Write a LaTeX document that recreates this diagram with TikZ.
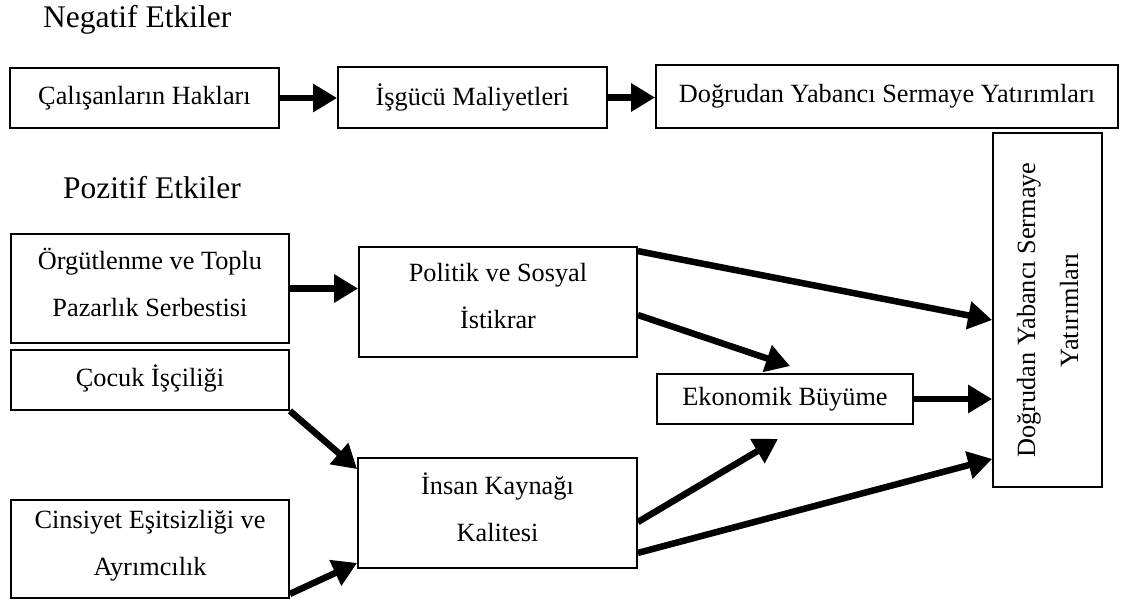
\documentclass[tikz,border=0pt]{standalone}
\usepackage{fontspec}
\setmainfont{Liberation Serif}
\usetikzlibrary{arrows.meta}

\begin{document}
\begin{tikzpicture}[x=1pt,y=-1pt,
    kutu/.style={draw, line width=1.8pt, inner sep=0pt, align=center,
        font=\fontsize{26.3}{47}\selectfont},
    ikisatir/.style={kutu, text depth=12pt},
    baslik/.style={anchor=base west, inner sep=0pt, font=\fontsize{31.5}{38}\selectfont},
    ok/.style={line width=6.5pt, -{Triangle[length=24pt,width=27pt]}}]
\useasboundingbox (0,0) rectangle (1123,606);

% Negatif etkiler
\node[baslik] (negbaslik) at (43,27) {Negatif Etkiler};
\node[kutu, minimum width=269, minimum height=60] (cal) at (144.5,98) {Çalışanların Hakları};
\node[kutu, minimum width=269, minimum height=61] (isg) at (472.5,97.5) {İşgücü Maliyetleri};
\node[kutu, minimum width=462, minimum height=63] (dyst) at (887,96.5) {Doğrudan Yabancı Sermaye Yatırımları};
\draw[ok] (cal.east) -- (cal.east -| isg.west);
\draw[ok] (isg.east) -- (isg.east -| dyst.west);

% Pozitif etkiler
\node[baslik] (pozbaslik) at (63,198) {Pozitif Etkiler};
\node[ikisatir, minimum width=278, minimum height=109] (org) at (150,288.5) {Örgütlenme ve Toplu\\Pazarlık Serbestisi};
\node[kutu, minimum width=278, minimum height=60, text depth=9pt] (coc) at (150,380) {Çocuk İşçiliği};
\node[ikisatir, minimum width=278, minimum height=98] (cin) at (150,549) {Cinsiyet Eşitsizliği ve\\Ayrımcılık};
\node[ikisatir, minimum width=278, minimum height=110] (pol) at (498,302) {Politik ve Sosyal\\İstikrar};
\node[ikisatir, minimum width=279, minimum height=110] (ins) at (497.5,513) {İnsan Kaynağı\\Kalitesi};
\node[kutu, minimum width=256, minimum height=50] (eko) at (785,399) {Ekonomik Büyüme};
\node[kutu, rotate=90, minimum width=354, minimum height=109] (dysv) at (1047.5,310)
    {Doğrudan Yabancı Sermaye\\[-4pt]Yatırımları};

\draw[ok] (org.east) -- (org.east -| pol.west);
\draw[ok] ([yshift=-5pt]pol.north east) -- ([yshift=-10pt]dysv.north);
\draw[ok] ([yshift=-13pt]pol.east) -- ([xshift=5pt,yshift=7pt]eko.north);
\draw[ok] (coc.south east) -- ([yshift=-12pt]ins.north west);
\draw[ok] ([yshift=5pt]cin.south east) -- ([yshift=6pt]ins.south west);
\draw[ok] ([yshift=-9pt]ins.east) -- ([xshift=-7pt,yshift=-14pt]eko.south);
\draw[ok] ([yshift=16pt]ins.south east) -- ([yshift=29pt]dysv.north west);
\draw[ok] (eko.east) -- (eko.east -| dysv.north);
\end{tikzpicture}
\end{document}
